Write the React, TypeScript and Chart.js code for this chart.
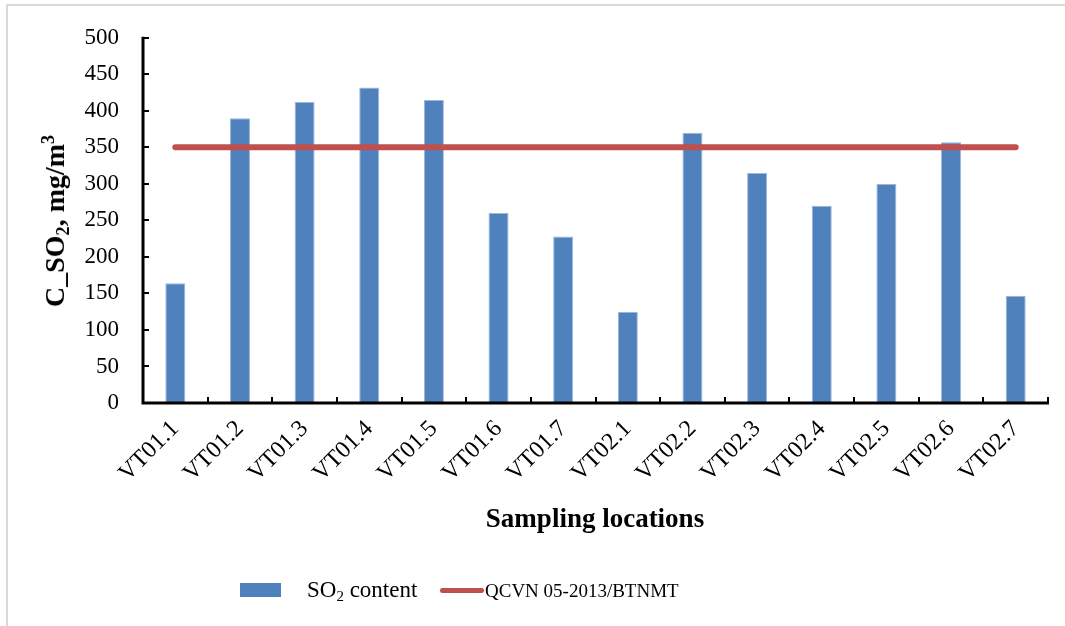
import React, { useEffect, useRef } from "react";
import { Chart, registerables } from "chart.js";

Chart.register(...registerables);

const categories = [
  "VT01.1", "VT01.2", "VT01.3", "VT01.4", "VT01.5", "VT01.6", "VT01.7",
  "VT02.1", "VT02.2", "VT02.3", "VT02.4", "VT02.5", "VT02.6", "VT02.7",
];
const so2Values = [164, 390, 412, 432, 415, 260, 228, 125, 370, 315, 270, 300, 357, 147];
const limitValues = [350, 350, 350, 350, 350, 350, 350, 350, 350, 350, 350, 350, 350, 350];
const yMin = 0;
const yMax = 500;
const yStep = 50;

const BAR_COLOR = "#4F81BD";
const LINE_COLOR = "#C0504D";
const SERIF = "'Liberation Serif', 'Times New Roman', serif";

const axisPlugin = {
  id: "customAxes",
  afterDatasetsDraw(chart: any) {
    const { ctx, chartArea, scales } = chart;
    const { left, right, top, bottom } = chartArea;
    const x = scales.x;
    const y = scales.y;
    ctx.save();
    ctx.strokeStyle = "#000";
    ctx.lineWidth = 3;
    ctx.beginPath();
    ctx.moveTo(left, top - 1);
    ctx.lineTo(left, bottom);
    ctx.lineTo(right + 1, bottom);
    ctx.stroke();
    ctx.lineWidth = 2;
    ctx.beginPath();
    y.ticks.forEach((t: any) => {
      const py = Math.round(y.getPixelForValue(t.value));
      ctx.moveTo(left, py);
      ctx.lineTo(left + 6, py);
    });
    for (let i = 0; i < categories.length; i++) {
      const px = Math.round(x.getPixelForValue(i + 0.5));
      ctx.moveTo(px, bottom);
      ctx.lineTo(px, bottom - 6);
    }
    ctx.stroke();
    ctx.restore();
  },
};

export default function App() {
  const canvasRef = useRef<HTMLCanvasElement | null>(null);

  useEffect(() => {
    if (!canvasRef.current) return;
    const chart = new Chart(canvasRef.current, {
      type: "bar",
      data: {
        labels: categories,
        datasets: [
          {
            type: "line",
            label: "QCVN 05-2013/BTNMT",
            data: limitValues,
            borderColor: LINE_COLOR,
            backgroundColor: LINE_COLOR,
            borderWidth: 6,
            borderCapStyle: "round",
            pointRadius: 0,
            fill: false,
            order: 0,
          } as any,
          {
            type: "bar",
            label: "SO2 content",
            data: so2Values,
            backgroundColor: BAR_COLOR,
            borderColor: "#9db7dc",
            borderWidth: 1,
            barPercentage: 0.31,
            categoryPercentage: 1,
            order: 1,
          } as any,
        ],
      },
      options: {
        animation: false,
        responsive: true,
        maintainAspectRatio: false,
        layout: { padding: { left: 0, top: 36, right: 17, bottom: 0 } },
        plugins: {
          legend: { display: false },
          tooltip: { enabled: false },
        },
        scales: {
          x: {
            offset: true,
            grid: { display: false, drawTicks: false },
            border: { display: false },
            ticks: {
              color: "#000",
              font: { family: SERIF, size: 24 },
              maxRotation: 45,
              minRotation: 45,
              padding: 12,
              autoSkip: false,
            },
            afterFit: (s: any) => {
              s.height = 223;
            },
          },
          y: {
            min: yMin,
            max: yMax,
            grid: { display: false, drawTicks: false },
            border: { display: false },
            ticks: {
              stepSize: yStep,
              color: "#000",
              font: { family: SERIF, size: 23 },
              padding: 24,
            },
            afterFit: (s: any) => {
              s.width = 143;
            },
          },
        },
      },
      plugins: [axisPlugin],
    });
    return () => chart.destroy();
  }, []);

  const subStyle: React.CSSProperties = { fontSize: "0.65em", verticalAlign: "-0.3em", lineHeight: 0 };
  const supStyle: React.CSSProperties = { fontSize: "0.65em", verticalAlign: "0.55em", lineHeight: 0 };

  return (
    <div
      style={{
        position: "fixed",
        left: 0,
        top: 0,
        width: 1065,
        height: 626,
        background: "#fff",
        fontFamily: SERIF,
        color: "#000",
      }}
    >
      <canvas ref={canvasRef} style={{ position: "absolute", left: 0, top: 0, width: 1065, height: 626 }} />
      <div style={{ position: "absolute", left: 6, top: 4, width: 2, height: 622, background: "#d9d9d9" }} />
      <div style={{ position: "absolute", left: 6, top: 4, width: 1059, height: 2, background: "#d9d9d9" }} />
      <div
        style={{
          position: "absolute",
          left: 55,
          top: 221,
          transform: "translate(-50%, -50%) rotate(-90deg)",
          whiteSpace: "nowrap",
          fontWeight: "bold",
          fontSize: 28,
          lineHeight: "30px",
        }}
      >
        C_SO<span style={subStyle}>2</span>, mg/m<span style={supStyle}>3</span>
      </div>
      <div
        style={{
          position: "absolute",
          left: 595,
          top: 518,
          transform: "translate(-50%, -50%)",
          whiteSpace: "nowrap",
          fontWeight: "bold",
          fontSize: 27,
          lineHeight: "30px",
        }}
      >
        Sampling locations
      </div>
      <div style={{ position: "absolute", left: 240, top: 583, width: 41, height: 14, background: BAR_COLOR }} />
      <div
        style={{
          position: "absolute",
          left: 307,
          top: 576,
          whiteSpace: "nowrap",
          fontSize: 23,
          lineHeight: "28px",
        }}
      >
        SO<span style={subStyle}>2</span> content
      </div>
      <div
        style={{
          position: "absolute",
          left: 440,
          top: 588,
          width: 44,
          height: 5,
          borderRadius: 3,
          background: LINE_COLOR,
        }}
      />
      <div
        style={{
          position: "absolute",
          left: 485,
          top: 577,
          whiteSpace: "nowrap",
          fontSize: 19,
          lineHeight: "28px",
        }}
      >
        QCVN 05-2013/BTNMT
      </div>
    </div>
  );
}
